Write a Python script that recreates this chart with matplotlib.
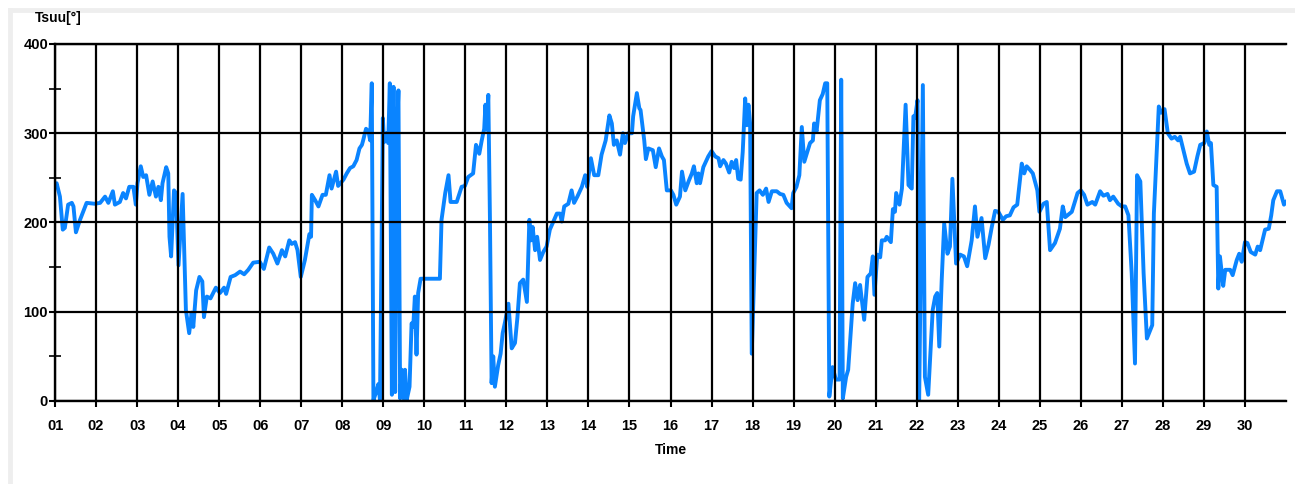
import matplotlib.pyplot as plt
from matplotlib.lines import Line2D

plt.rcParams['font.family'] = ['Liberation Sans', 'DejaVu Sans']

# time in days (1.00 = start of day 01)
t_days = [
    1.00, 1.04, 1.12, 1.19, 1.24, 1.32, 1.41, 1.45, 1.51, 1.61, 1.77, 1.97,
    2.10, 2.22, 2.30, 2.41, 2.46, 2.58, 2.66, 2.73, 2.81, 2.91, 2.97,
    3.01, 3.09, 3.15, 3.22, 3.30, 3.38, 3.46, 3.52, 3.58, 3.62, 3.71, 3.76,
    3.79, 3.83, 3.90, 3.95, 4.01, 4.11, 4.19, 4.27, 4.33, 4.37, 4.44, 4.52,
    4.59, 4.63, 4.70, 4.79, 4.92, 5.02, 5.12, 5.17, 5.28, 5.39, 5.51, 5.61,
    5.71, 5.83, 5.99, 6.09, 6.22, 6.32, 6.42, 6.53, 6.61, 6.71, 6.77, 6.85,
    6.91, 6.99, 7.09, 7.20, 7.24, 7.26, 7.34, 7.42, 7.52, 7.60, 7.69, 7.74,
    7.85, 7.90, 8.03, 8.11, 8.19, 8.27, 8.35, 8.42, 8.48, 8.51, 8.58, 8.64,
    8.68, 8.72, 8.76, 8.82, 8.88, 8.92, 8.99, 9.02, 9.08, 9.12, 9.16, 9.21,
    9.25, 9.29, 9.33, 9.37, 9.41, 9.45, 9.49, 9.53, 9.57, 9.64, 9.69, 9.73,
    9.77, 9.81, 9.85, 9.91, 10.38, 10.42, 10.51, 10.59, 10.64, 10.79, 10.91,
    10.99, 11.07, 11.19, 11.26, 11.34, 11.40, 11.46, 11.49, 11.52, 11.56,
    11.60, 11.64, 11.68, 11.72, 11.80, 11.86, 11.91, 11.97, 12.05, 12.13,
    12.21, 12.27, 12.33, 12.41, 12.50, 12.56, 12.60, 12.64, 12.70, 12.75,
    12.82, 12.90, 12.98, 13.06, 13.23, 13.31, 13.35, 13.41, 13.51, 13.59,
    13.65, 13.73, 13.84, 13.92, 13.97, 14.06, 14.14, 14.24, 14.32, 14.42,
    14.51, 14.57, 14.62, 14.69, 14.77, 14.84, 14.89, 14.97, 15.06, 15.09,
    15.18, 15.24, 15.27, 15.36, 15.40, 15.46, 15.57, 15.64, 15.72, 15.79,
    15.84, 15.91, 16.01, 16.07, 16.14, 16.23, 16.28, 16.36, 16.44, 16.52,
    16.57, 16.64, 16.68, 16.72, 16.80, 16.92, 17.00, 17.09, 17.17, 17.21,
    17.29, 17.35, 17.43, 17.49, 17.55, 17.60, 17.65, 17.71, 17.76, 17.82,
    17.86, 17.90, 17.94, 17.98, 18.10, 18.17, 18.25, 18.33, 18.39, 18.47,
    18.59, 18.67, 18.75, 18.83, 18.91, 18.95, 18.99, 19.07, 19.14, 19.20,
    19.26, 19.32, 19.40, 19.47, 19.50, 19.56, 19.64, 19.71, 19.77, 19.82,
    19.87, 19.95, 20.03, 20.12, 20.16, 20.20, 20.28, 20.33, 20.44, 20.50,
    20.56, 20.62, 20.72, 20.80, 20.88, 20.93, 20.97, 21.04, 21.11, 21.15,
    21.23, 21.27, 21.37, 21.42, 21.47, 21.50, 21.58, 21.64, 21.73, 21.80,
    21.88, 21.92, 21.96, 22.02, 22.06, 22.15, 22.20, 22.28, 22.39, 22.45,
    22.50, 22.55, 22.61, 22.67, 22.75, 22.81, 22.87, 22.96, 23.06, 23.15,
    23.23, 23.34, 23.42, 23.48, 23.58, 23.67, 23.75, 23.83, 23.91, 23.99,
    24.10, 24.18, 24.27, 24.36, 24.45, 24.56, 24.62, 24.68, 24.76, 24.83,
    24.94, 24.99, 25.09, 25.17, 25.25, 25.37, 25.49, 25.56, 25.62, 25.78,
    25.92, 26.00, 26.08, 26.16, 26.28, 26.35, 26.47, 26.55, 26.65, 26.71,
    26.79, 26.91, 27.00, 27.08, 27.16, 27.24, 27.32, 27.37, 27.45, 27.53,
    27.61, 27.74, 27.78, 27.90, 27.96, 28.04, 28.12, 28.21, 28.29, 28.37,
    28.42, 28.50, 28.58, 28.66, 28.76, 28.84, 28.91, 29.01, 29.07, 29.13,
    29.17, 29.23, 29.31, 29.35, 29.39, 29.47, 29.52, 29.64, 29.70, 29.80,
    29.86, 29.92, 30.00, 30.06, 30.14, 30.25, 30.31, 30.37, 30.49, 30.58,
    30.64, 30.69, 30.78, 30.86, 30.95, 31.00,
]
tsuu = [
    240, 244, 229, 192, 194, 220, 222, 218, 189, 203, 222, 221,
    222, 229, 222, 235, 220, 223, 233, 227, 240, 240, 220,
    244, 263, 251, 253, 231, 246, 229, 240, 225, 244, 262, 255,
    184, 162, 236, 233, 152, 232, 102, 76, 99, 83, 124, 139,
    134, 94, 117, 115, 127, 121, 127, 120, 139, 141, 145, 142,
    147, 155, 156, 148, 172, 165, 154, 169, 162, 180, 176, 178,
    169, 139, 158, 187, 184, 231, 225, 218, 231, 231, 253, 238,
    257, 241, 248, 255, 261, 263, 270, 283, 287, 292, 305, 302,
    292, 356, 1, 9, 19, 1, 317, 290, 300, 289, 356, 7,
    352, 10, 292, 348, 3, 35, 3, 35, 1, 16, 87, 83,
    117, 52, 121, 137, 137, 203, 233, 253, 223, 223, 240,
    241, 251, 255, 287, 277, 292, 305, 332, 304, 343,
    203, 20, 50, 16, 40, 53, 76, 89, 109, 59,
    65, 94, 132, 136, 111, 203, 180, 195, 169, 184,
    158, 167, 173, 192, 210, 210, 201, 218, 221, 236,
    222, 229, 240, 253, 240, 272, 253, 253, 276, 292,
    320, 311, 287, 292, 276, 300, 289, 300, 300, 319,
    345, 328, 326, 292, 271, 283, 281, 262, 283, 274,
    270, 236, 236, 231, 220, 229, 257, 236, 246, 255,
    263, 244, 255, 244, 262, 274, 280, 274, 272, 263,
    270, 266, 256, 268, 261, 270, 249, 248, 279, 339,
    309, 332, 311, 53, 233, 236, 231, 238, 223, 235,
    235, 232, 231, 222, 218, 216, 233, 240, 253, 307,
    268, 277, 289, 292, 311, 302, 337, 344, 356, 356,
    5, 38, 24, 24, 360, 3, 27, 35, 109, 132,
    113, 130, 91, 139, 143, 162, 119, 164, 161, 180,
    180, 184, 178, 215, 212, 233, 220, 238, 332, 242,
    238, 319, 317, 337, 1, 354, 27, 7, 102, 117,
    121, 61, 136, 199, 165, 173, 249, 154, 164, 162,
    151, 180, 218, 184, 205, 160, 175, 195, 213, 212,
    203, 207, 208, 217, 220, 266, 255, 263, 259, 255,
    236, 212, 221, 223, 169, 177, 193, 218, 206, 212,
    233, 236, 231, 220, 223, 220, 235, 230, 232, 225,
    229, 221, 218, 218, 208, 143, 42, 253, 246, 143,
    70, 85, 210, 330, 323, 327, 300, 294, 296, 292,
    296, 281, 266, 255, 257, 274, 287, 289, 302, 287,
    289, 242, 240, 126, 162, 129, 147, 147, 141, 158,
    165, 156, 178, 177, 167, 164, 173, 169, 192, 193,
    208, 225, 235, 235, 220, 223,
]
day_labels = ['%02d' % d for d in range(1, 31)]
y_ticks = [0, 100, 200, 300, 400]

fig = plt.figure(figsize=(12.95, 4.84), dpi=100)
# light frame around the panel (top and left edges)
fig.add_artist(Line2D([10/1295, 1], [1 - 10/484, 1 - 10/484], color='#eeeeee', lw=3.5))
fig.add_artist(Line2D([10/1295, 10/1295], [0, 1 - 10/484], color='#eeeeee', lw=3.5))

ax = fig.add_axes([55/1295, 1 - 401/484, (1286 - 55)/1295, (401 - 44)/484])
ax.plot(t_days, tsuu, color='#0a84ff', lw=2.8, solid_joinstyle='round', zorder=2)

ax.set_xlim(1, 31)
ax.set_ylim(0, 400)
ax.set_xticks(range(1, 31))
ax.set_xticklabels(day_labels, fontsize=10.5, fontweight='bold')
ax.set_yticks(y_ticks)
ax.set_yticklabels([str(v) for v in y_ticks], fontsize=10.5, fontweight='bold')
ax.set_yticks([50, 150, 250, 350], minor=True)

ax.grid(True, which='major', color='black', lw=1.6, zorder=3)
ax.set_axisbelow(False)
for side in ['left', 'bottom', 'top']:
    ax.spines[side].set_linewidth(1.7)
ax.spines['right'].set_visible(False)

ax.tick_params(axis='x', which='major', direction='out', length=4, width=1.5, pad=9)
ax.tick_params(axis='y', which='major', direction='out', length=4, width=1.5, pad=1)
ax.tick_params(axis='y', which='minor', direction='inout', length=8, width=1.2)

ax.set_xlabel('Time', fontsize=10, fontweight='bold', labelpad=7)
fig.text(35/1295, 1 - 18/484, 'Tsuu[°]', fontsize=10, fontweight='bold', va='center', ha='left')

fig.savefig('out.png', dpi=100)
